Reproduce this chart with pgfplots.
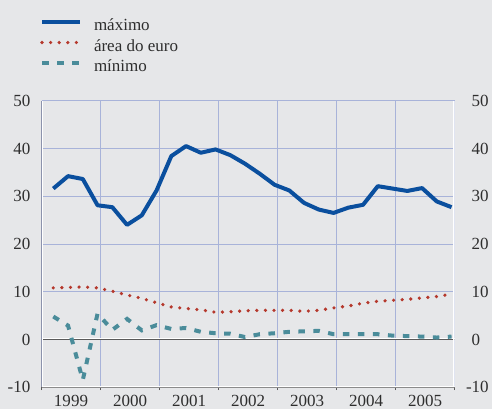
\documentclass[border=0pt]{standalone}
\usepackage{pgfplots}
\pgfplotsset{compat=1.18}
\usepackage{fontspec}
\setmainfont{Liberation Serif}
\definecolor{bg}{HTML}{E6E7E9}
\definecolor{maxblue}{HTML}{0A4F9E}
\definecolor{eured}{HTML}{B5382C}
\definecolor{minteal}{HTML}{4A8C9A}
\definecolor{gridblue}{HTML}{A8B3D9}
\definecolor{axgray}{HTML}{5A5A5A}
\definecolor{txt}{HTML}{2E2E2E}
\pgfplotstableread{
x max euro min
0.8 31.6 10.8 4.8
1.8 34.2 10.9 2.9
2.8 33.6 11.0 -8.5
3.8 28.1 10.8 5.4
4.8 27.7 10.1 2.0
5.8 24.0 9.3 4.3
6.8 26.0 8.6 1.9
7.8 31.2 7.7 3.0
8.8 38.4 6.8 2.2
9.8 40.5 6.5 2.4
10.8 39.1 6.2 1.6
11.8 39.8 5.7 1.3
12.8 38.6 5.8 1.2
13.8 36.8 6.0 0.5
14.8 34.7 6.1 1.1
15.8 32.4 6.1 1.3
16.8 31.2 6.1 1.6
17.8 28.6 5.9 1.7
18.8 27.2 6.1 1.8
19.8 26.5 6.6 1.1
20.8 27.6 7.0 1.1
21.8 28.2 7.6 1.1
22.8 32.1 8.0 1.1
23.8 31.6 8.2 0.8
24.8 31.1 8.4 0.7
25.8 31.7 8.7 0.6
26.8 28.9 9.0 0.4
27.8 27.7 9.5 0.6
}\data
\begin{document}
\begin{tikzpicture}
\fill[bg] (0pt,0pt) rectangle (492pt,-409pt);
\begin{axis}[
  at={(41.5pt,-387.2pt)}, anchor=south west,
  width=413pt, height=286.5pt, scale only axis,
  xmin=0, xmax=28, ymin=-10, ymax=50,
  axis line style={draw=none},
  xtick={0,4,...,28}, xticklabels={},
  xmajorgrids, ymajorgrids,
  grid style={gridblue, line width=0.8pt},
  xtick pos=bottom, ytick pos=left,
  tick align=outside, major tick length=3pt,
  xtick style={axgray, line width=0.8pt},
  ytick style={draw=none},
  extra x ticks={2,6,...,26},
  extra x tick labels={1999,2000,2001,2002,2003,2004,2005},
  extra x tick style={grid=none, major tick length=0pt},
  xticklabel style={anchor=north, inner sep=0pt, yshift=-8pt, font=\fontsize{17}{20}\selectfont, text=txt},
  ytick={-10,0,...,50},
  yticklabels={-10,0,10,20,30,40,50},
  yticklabel style={anchor=east, inner sep=0pt, xshift=-8pt, font=\fontsize{17}{20}\selectfont, text=txt},
  legend style={at={(0,1)}, anchor=north west, xshift=-1.5pt, yshift=82pt,
    draw=none, fill=none, inner sep=0pt, outer sep=0pt,
    font=\fontsize{17}{20}\selectfont, text=txt,
    nodes={inner sep=0pt, text height=12pt, text depth=4pt},
    row sep=4.3pt, column sep=12pt},
  legend cell align=left,
  legend image code/.code={\draw[#1] (0pt,4.5pt) -- (38pt,4.5pt);},
]
\draw[white, line width=1.2pt] ([yshift=0.6pt]axis cs:0,0) -- ([yshift=0.6pt]axis cs:28,0);
\draw[axgray, line width=1pt] ([yshift=-0.5pt]axis cs:0,0) -- ([yshift=-0.5pt]axis cs:28,0);
\draw[white, line width=1.2pt] ([yshift=0.6pt]axis cs:0,-10) -- ([yshift=0.6pt]axis cs:28,-10);
\draw[axgray!70, line width=1pt] ([yshift=-0.5pt]axis cs:0,-10) -- ([yshift=-0.5pt]axis cs:28,-10);
\draw[white, line width=1.2pt] ([xshift=0.6pt]axis cs:0,-10) -- ([xshift=0.6pt]axis cs:0,50);
\draw[axgray, line width=1pt] ([xshift=-0.5pt]axis cs:0,-10) -- ([xshift=-0.5pt]axis cs:0,50);
\draw[white, line width=1.2pt] ([xshift=-0.6pt]axis cs:28,-10) -- ([xshift=-0.6pt]axis cs:28,50);
\draw[axgray!90!black, line width=1pt] ([xshift=0.5pt]axis cs:28,-10) -- ([xshift=0.5pt]axis cs:28,50);
\addplot[maxblue, line width=4pt, line join=round] table[x=x, y=max] {\data};
\addlegendentry{máximo}
\addplot[eured, line width=3.6pt, line cap=round, dash pattern=on 0pt off 8.6pt] table[x=x, y=euro] {\data};
\addlegendentry{área do euro}
\addplot[minteal, line width=4pt, dash pattern=on 6.5pt off 8.5pt] table[x=x, y=min] {\data};
\addlegendentry{mínimo}
\end{axis}
\begin{axis}[
  at={(41.5pt,-387.2pt)}, anchor=south west,
  width=413pt, height=286.5pt, scale only axis,
  xmin=0, xmax=28, ymin=-10, ymax=50,
  axis line style={draw=none},
  xtick=\empty,
  ytick={-10,0,...,50},
  yticklabels={\llap{-}10,0,10,20,30,40,50},
  yticklabel pos=right, ytick style={draw=none},
  yticklabel style={anchor=west, inner sep=0pt, xshift=17pt, font=\fontsize{17}{20}\selectfont, text=txt},
]
\end{axis}
\pgfresetboundingbox
\path (0pt,0pt) rectangle (492pt,-409pt);
\end{tikzpicture}
\end{document}
